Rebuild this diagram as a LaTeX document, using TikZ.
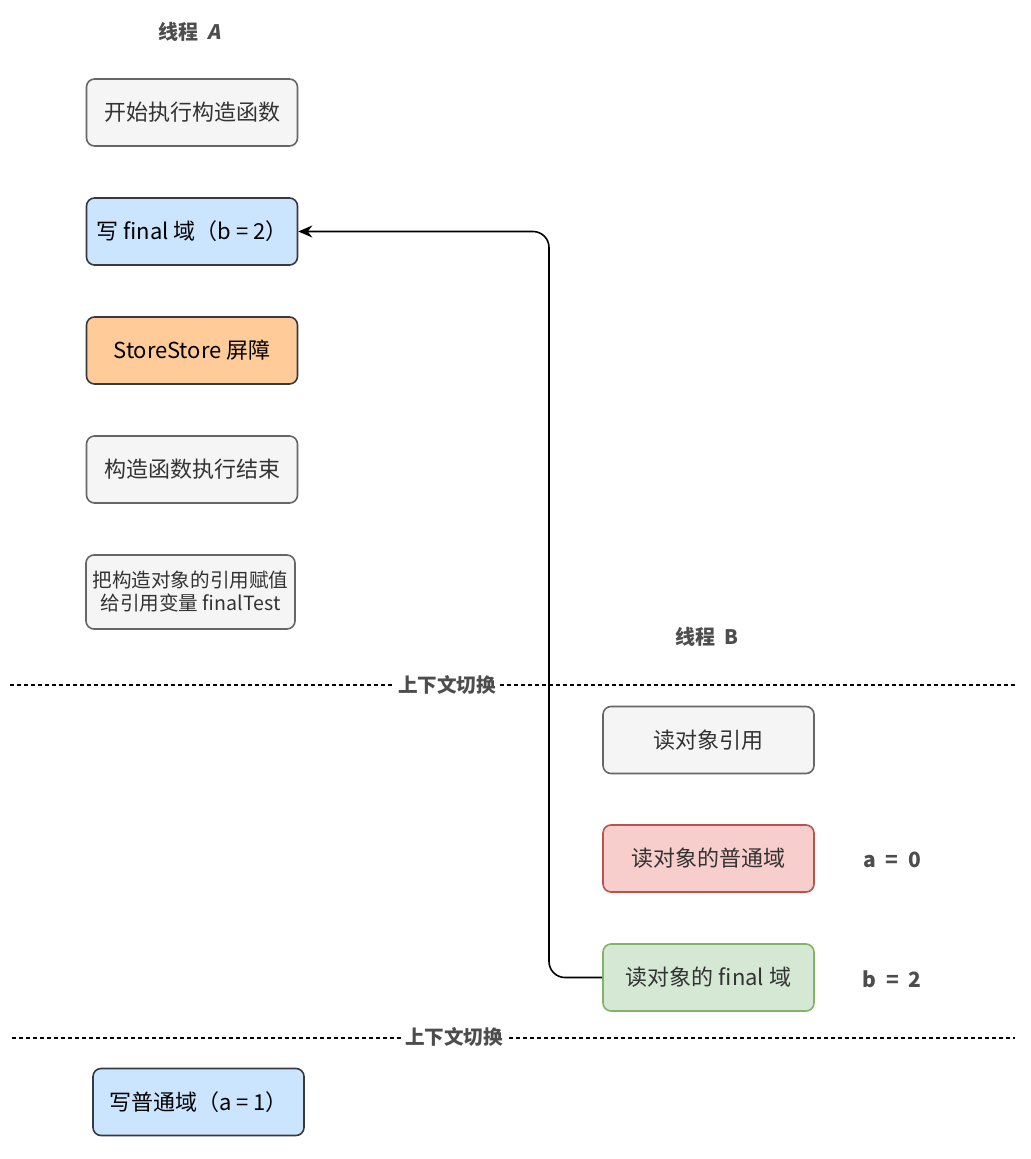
\documentclass[tikz,border=0pt]{standalone}
\usepackage{fontspec}
\setmainfont{Noto Sans CJK SC}
\usetikzlibrary{arrows.meta}
\definecolor{txt}{HTML}{333333}
\definecolor{ttl}{HTML}{4D4D4D}
\definecolor{grayfill}{HTML}{F5F5F5}
\definecolor{graystroke}{HTML}{666666}
\definecolor{bluefill}{HTML}{CCE5FF}
\definecolor{darkstroke}{HTML}{36393D}
\definecolor{orangefill}{HTML}{FFCC99}
\definecolor{redfill}{HTML}{F8CECC}
\definecolor{redstroke}{HTML}{B85450}
\definecolor{greenfill}{HTML}{D5E8D4}
\definecolor{greenstroke}{HTML}{82B366}
\tikzset{
  box/.style={draw, line width=0.8pt, rounded corners=4pt, minimum width=105.5pt, minimum height=33.5pt,
    inner sep=0pt, font=\fontsize{11pt}{13pt}\selectfont, text=txt, align=center},
  graybox/.style={box, fill=grayfill, draw=graystroke},
  bluebox/.style={box, fill=bluefill, draw=darkstroke, text=black},
  orangebox/.style={box, fill=orangefill, draw=darkstroke, text=black},
  redbox/.style={box, fill=redfill, draw=redstroke},
  greenbox/.style={box, fill=greenfill, draw=greenstroke},
  title/.style={font=\fontsize{10pt}{12pt}\selectfont\bfseries, text=ttl},
  sep/.style={dashed, dash pattern=on 2pt off 1.5pt, line width=0.6pt},
  seplabel/.style={fill=white, font=\fontsize{9.8pt}{11pt}\selectfont\bfseries, text=ttl, inner sep=2pt},
  val/.style={font=\fontsize{10.5pt}{12pt}\selectfont\bfseries, text=ttl},
}
\begin{document}
\begin{tikzpicture}[x=0.5pt, y=-0.5pt]
\useasboundingbox (0,0) rectangle (1030,1159);

\node[title] (tA) at (190,32) {线程\ \ {\addfontfeature{FakeSlant=0.2}A}};
\node[graybox] (a1) at (192,112.5) {开始执行构造函数};
\node[bluebox] (a2) at (192,231.5) {写 final 域（b = 2）};
\node[orangebox] (a3) at (192,350.5) {StoreStore 屏障};
\node[graybox] (a4) at (192,469.5) {构造函数执行结束};
\node[graybox, minimum width=104.5pt, minimum height=37pt, font=\fontsize{9.8pt}{11.5pt}\selectfont] (a5) at (190.5,592) {把构造对象的引用赋值\\给引用变量 finalTest};

\node[title] (tB) at (707,637) {线程\ \ B};

\coordinate (l1s) at (10,685);
\coordinate (l1e) at (1015,685);
\draw[sep] (l1s) -- (l1e);
\node[seplabel] (c1) at (447,685) {上下文切换};

\node[graybox] (b1) at (708.5,740) {读对象引用};
\node[redbox] (b2) at (708.5,858.5) {读对象的普通域};
\node[val] (v1) at (892,860) {a\ \ =\ \ 0};
\node[greenbox] (b3) at (708.5,977.5) {读对象的 final 域};
\node[val] (v2) at (892,979) {b\ \ =\ \ 2};

\coordinate (l2s) at (12,1038);
\coordinate (l2e) at (1015,1038);
\draw[sep] (l2s) -- (l2e);
\node[seplabel] (c2) at (454,1037) {上下文切换};

\node[bluebox] (w1) at (198.5,1102) {写普通域（a = 1）};

\draw[line width=0.8pt, -{Stealth[length=7pt,width=6pt]}, rounded corners=8pt]
  (b3.west) -| (549,600) |- (a2.east);
\end{tikzpicture}
\end{document}
